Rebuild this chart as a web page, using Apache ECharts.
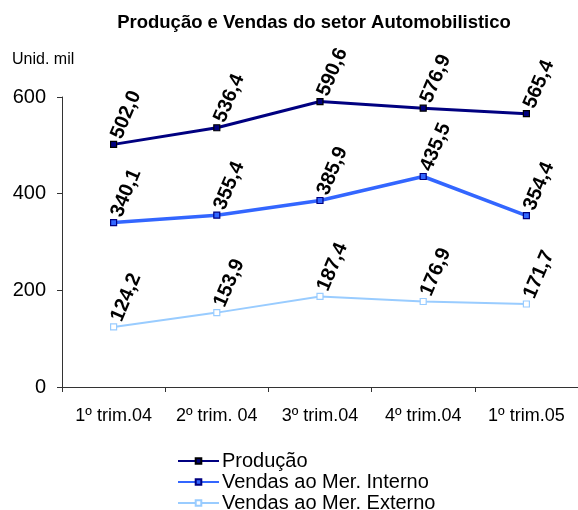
<!DOCTYPE html>
<html>
<head>
<meta charset="utf-8">
<script src="https://cdn.jsdelivr.net/npm/echarts@6/dist/echarts.min.js"></script>
<style>
  html, body { margin: 0; padding: 0; background: #fff; }
  #main { width: 578px; height: 510px; }
</style>
</head>
<body>
<div id="main"></div>
<script>
// dados
var categories = ['1º trim.04', '2º trim. 04', '3º trim.04', '4º trim.04', '1º trim.05'];
var producao = [502.0, 536.4, 590.6, 576.9, 565.4];
var vendasInterno = [340.1, 355.4, 385.9, 435.5, 354.4];
var vendasExterno = [124.2, 153.9, 187.4, 176.9, 171.7];
var yTicks = [0, 200, 400, 600];

var FONT = '"Liberation Sans", Arial, sans-serif';

// rótulo inclinado com vírgula decimal
function rotLabel() {
  return {
    show: true,
    position: 'inside',
    align: 'left',
    verticalAlign: 'middle',
    rotate: 67,
    padding: [0, 0, 0, 7],
    fontFamily: FONT,
    fontSize: 20,
    fontWeight: 'bold',
    color: '#000',
    formatter: function (p) {
      return p.value.toFixed(1).replace('.', ',');
    }
  };
}

function serie(name, data, lineColor, width, fill, border) {
  return {
    name: name,
    type: 'line',
    data: data,
    symbol: 'rect',
    symbolSize: 6,
    z: 3,
    lineStyle: { color: lineColor, width: width },
    itemStyle: { color: fill, borderColor: border, borderWidth: 1.2 },
    label: rotLabel(),
    emphasis: { disabled: true }
  };
}

var myChart = echarts.init(document.getElementById('main'));
var option = {
  animation: false,
  title: {
    text: 'Produção e Vendas do setor Automobilistico',
    left: 309,
    textAlign: 'center',
    top: 8,
    textStyle: { fontFamily: FONT, fontSize: 18.5, fontWeight: 'bold', color: '#000' }
  },
  graphic: [{
    type: 'text',
    left: 12,
    top: 52,
    style: { text: 'Unid. mil', fontFamily: FONT, fontSize: 16, fill: '#000' }
  }],
  legend: {
    orient: 'vertical',
    left: 177,
    top: 451,
    height: 90,
    padding: 0,
    itemWidth: 41,
    itemHeight: 7,
    itemGap: 1,
    textStyle: { fontFamily: FONT, fontSize: 20, color: '#000', lineHeight: 20, padding: [0, 0, 0, -2] },
    data: ['Produção', 'Vendas ao Mer. Interno', 'Vendas ao Mer. Externo']
  },
  grid: { left: 62, top: 97, width: 526, height: 290, containLabel: false },
  xAxis: {
    type: 'category',
    data: categories,
    boundaryGap: true,
    axisLine: { lineStyle: { color: '#333', width: 1 } },
    axisTick: { show: true, length: 5, lineStyle: { color: '#333' } },
    axisLabel: { fontFamily: FONT, fontSize: 18, color: '#000', margin: 20, interval: 0 },
    splitLine: { show: false }
  },
  yAxis: {
    type: 'value',
    min: yTicks[0],
    max: yTicks[yTicks.length - 1],
    interval: yTicks[1] - yTicks[0],
    axisLine: { show: true, lineStyle: { color: '#333', width: 1 } },
    axisTick: { show: true, length: 5, lineStyle: { color: '#333' } },
    axisLabel: { fontFamily: FONT, fontSize: 20, color: '#000', margin: 16 },
    splitLine: { show: false }
  },
  series: [
    serie('Produção', producao, '#000080', 3, '#000080', '#000'),
    serie('Vendas ao Mer. Interno', vendasInterno, '#3366ff', 3.5, '#3366ff', '#000080'),
    serie('Vendas ao Mer. Externo', vendasExterno, '#99ccff', 2, '#fff', '#99ccff')
  ]
};
myChart.setOption(option);
</script>
</body>
</html>
